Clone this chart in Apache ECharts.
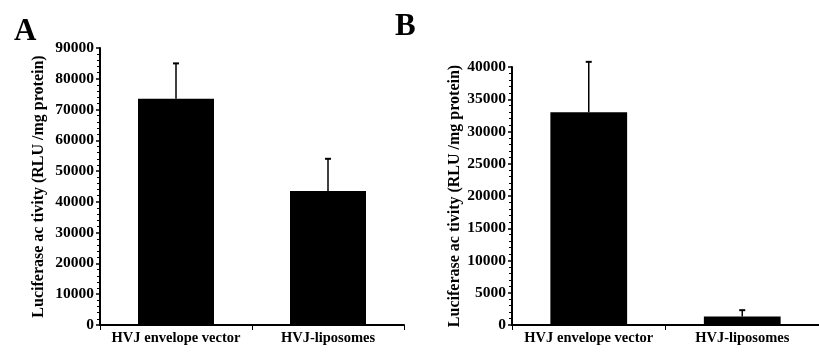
<!DOCTYPE html>
<html>
<head>
<meta charset="utf-8">
<script src="https://cdn.jsdelivr.net/npm/echarts@6/dist/echarts.min.js"></script>
<style>
  html, body { margin: 0; padding: 0; background: #fff; }
  #chart { width: 819px; height: 353px; }
</style>
</head>
<body>
<div id="chart"></div>
<script>
var categories = ['HVJ envelope vector', 'HVJ-liposomes'];
var meanA = [73500, 43500];
var errTopA = [85000, 54000];
var meanB = [33000, 1300];
var errTopB = [40800, 2300];
var yNameText = 'Luciferase ac tivity (RLU /mg protein)';

var font = 'Liberation Serif';
var myChart = echarts.init(document.getElementById('chart'));

// error bar: vertical line from bar top up to the top value, with a small cap
function errRender(params, api) {
  var base = api.coord([api.value(0), api.value(1)]);
  var top = api.coord([api.value(0), api.value(2)]);
  var style = { stroke: '#000', lineWidth: 1.5 };
  return {
    type: 'group',
    children: [
      { type: 'line', shape: { x1: base[0], y1: base[1], x2: top[0], y2: top[1] }, style: style },
      { type: 'line', shape: { x1: top[0] - 3, y1: top[1], x2: top[0] + 3, y2: top[1] }, style: { stroke: '#000', lineWidth: 2 } }
    ]
  };
}

function xAxisOf(idx) {
  return {
    type: 'category', gridIndex: idx, data: categories,
    axisLine: { lineStyle: { color: '#000', width: 2 } },
    axisTick: { show: true, length: 5, lineStyle: { color: '#000', width: 1 } },
    axisLabel: { color: '#000', fontFamily: font, fontWeight: 'bold', fontSize: 14.5, margin: 6,
      interval: 0, hideOverlap: false }
  };
}

function yAxisOf(idx, max, interval, nameGap) {
  return {
    type: 'value', gridIndex: idx, min: 0, max: max, interval: interval,
    name: yNameText, nameLocation: 'middle', nameGap: nameGap, nameRotate: 90,
    nameTextStyle: { color: '#000', fontFamily: font, fontWeight: 'bold', fontSize: 16 },
    axisLine: { show: true, lineStyle: { color: '#000', width: 2 } },
    axisTick: { show: true, length: 4, lineStyle: { color: '#000', width: 1.5 } },
    minorTick: { show: true, splitNumber: 5, length: 3, lineStyle: { color: '#000', width: 1 } },
    splitLine: { show: false },
    axisLabel: { color: '#000', fontFamily: font, fontWeight: 'bold', fontSize: 15.5, margin: 6,
      formatter: function (v) { return String(v); } }
  };
}

var option = {
  backgroundColor: '#fff',
  animation: false,
  title: [
    { text: 'A', left: 9, top: 11, textStyle: { fontFamily: font, fontWeight: 'bold', fontSize: 31, color: '#000' } },
    { text: 'B', left: 390, top: 6, textStyle: { fontFamily: font, fontWeight: 'bold', fontSize: 31, color: '#000' } }
  ],
  grid: [
    { left: 100, top: 48, width: 304, height: 277 },
    { left: 512, top: 67, width: 310, height: 258 }
  ],
  xAxis: [xAxisOf(0), xAxisOf(1)],
  yAxis: [yAxisOf(0, 90000, 10000, 53), yAxisOf(1, 40000, 5000, 48)],
  series: [
    { type: 'bar', xAxisIndex: 0, yAxisIndex: 0, data: meanA, barWidth: '50%', itemStyle: { color: '#000' } },
    { type: 'custom', xAxisIndex: 0, yAxisIndex: 0, renderItem: errRender, z: 3,
      data: meanA.map(function (v, i) { return [i, v, errTopA[i]]; }) },
    { type: 'bar', xAxisIndex: 1, yAxisIndex: 1, data: meanB, barWidth: '50%', itemStyle: { color: '#000' } },
    { type: 'custom', xAxisIndex: 1, yAxisIndex: 1, renderItem: errRender, z: 3,
      data: meanB.map(function (v, i) { return [i, v, errTopB[i]]; }) }
  ]
};
myChart.setOption(option);
</script>
</body>
</html>
